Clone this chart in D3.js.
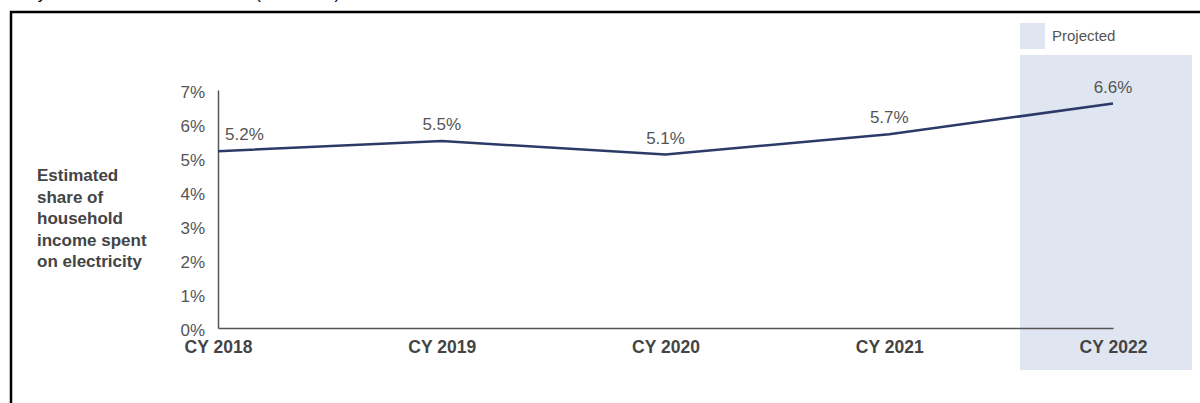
<!DOCTYPE html>
<html>
<head>
<meta charset="utf-8">
<script src="https://cdn.jsdelivr.net/npm/d3@7"></script>
<style>
  html, body { margin: 0; padding: 0; background: #fff; }
  svg { display: block; font-family: "Liberation Sans", Arial, sans-serif; }
</style>
</head>
<body>
<svg id="chart" width="1200" height="403"></svg>
<script>
// Share of household income spent on electricity, by calendar year
const categories = ["CY 2018", "CY 2019", "CY 2020", "CY 2021", "CY 2022"];
const shareValues = [5.2, 5.5, 5.1, 5.7, 6.6];
const yTicks = [0, 1, 2, 3, 4, 5, 6, 7];
const projectedCategories = ["CY 2022"];
const axisTitleLines = ["Estimated", "share of", "household", "income spent", "on electricity"];
const legendLabel = "Projected";

const svg = d3.select("#chart");

// Caption line running above the frame (only its lower edge shows)
svg.append("text")
  .attr("x", 345).attr("y", -1)
  .attr("text-anchor", "end")
  .attr("font-size", 17)
  .attr("fill", "#000")
  .text("spent on electricity for 2018 to 2021 and 2022 (estimated).");

// Frame around the figure
svg.append("path")
  .attr("d", "M11,403 V12 H1205")
  .attr("fill", "none")
  .attr("stroke", "#000")
  .attr("stroke-width", 2.5);

const x = d3.scalePoint().domain(categories).range([218, 1113]);
const y = d3.scaleLinear().domain([0, 7]).range([328, 90]);

// Projected period shading
projectedCategories.forEach(c => {
  svg.append("rect")
    .attr("x", x(c) - 93)
    .attr("y", 55)
    .attr("width", 172)
    .attr("height", 315)
    .attr("fill", "#dfe6f2");
});

// Legend
svg.append("rect")
  .attr("x", 1020).attr("y", 23)
  .attr("width", 25).attr("height", 26)
  .attr("fill", "#dfe6f2");
svg.append("text")
  .attr("x", 1052).attr("y", 41)
  .attr("font-size", 15)
  .attr("fill", "#555")
  .text(legendLabel);

// Y axis
const yAxis = svg.append("g")
  .attr("transform", `translate(${x(categories[0])},0)`)
  .call(d3.axisLeft(y).tickValues(yTicks).tickFormat(d => d + "%").tickSize(0).tickPadding(13));
yAxis.select(".domain").attr("stroke", "#555").attr("stroke-width", 1.5);
yAxis.selectAll(".tick text")
  .attr("font-size", 17)
  .attr("font-family", "Liberation Sans, Arial, sans-serif")
  .attr("fill", "#555")
  .attr("dy", "0.42em");

// X axis
const xAxis = svg.append("g")
  .attr("transform", `translate(0,${y(0)})`)
  .call(d3.axisBottom(x).tickSize(0).tickPadding(13));
xAxis.select(".domain").attr("stroke", "#555").attr("stroke-width", 1.5);
xAxis.selectAll(".tick text")
  .attr("font-size", 17.5)
  .attr("font-weight", "bold")
  .attr("font-family", "Liberation Sans, Arial, sans-serif")
  .attr("fill", "#444");

// Axis title
const title = svg.append("text")
  .attr("x", 37).attr("y", 181)
  .attr("font-size", 17)
  .attr("font-weight", "bold")
  .attr("fill", "#444");
axisTitleLines.forEach((line, i) => {
  title.append("tspan").attr("x", 37).attr("dy", i === 0 ? 0 : 21.5).text(line);
});

// Data line
const data = categories.map((c, i) => ({ c, v: shareValues[i] }));
svg.append("path")
  .datum(data)
  .attr("fill", "none")
  .attr("stroke", "#2b3a67")
  .attr("stroke-width", 2.5)
  .attr("d", d3.line().x(d => x(d.c)).y(d => y(d.v)));

// Value labels
svg.selectAll(".value-label")
  .data(data)
  .join("text")
  .attr("class", "value-label")
  .attr("x", (d, i) => i === 0 ? x(d.c) + 7 : x(d.c))
  .attr("y", d => y(d.v) - 11)
  .attr("text-anchor", (d, i) => i === 0 ? "start" : "middle")
  .attr("font-size", 17)
  .attr("fill", "#555")
  .text(d => d.v.toFixed(1) + "%");
</script>
</body>
</html>
